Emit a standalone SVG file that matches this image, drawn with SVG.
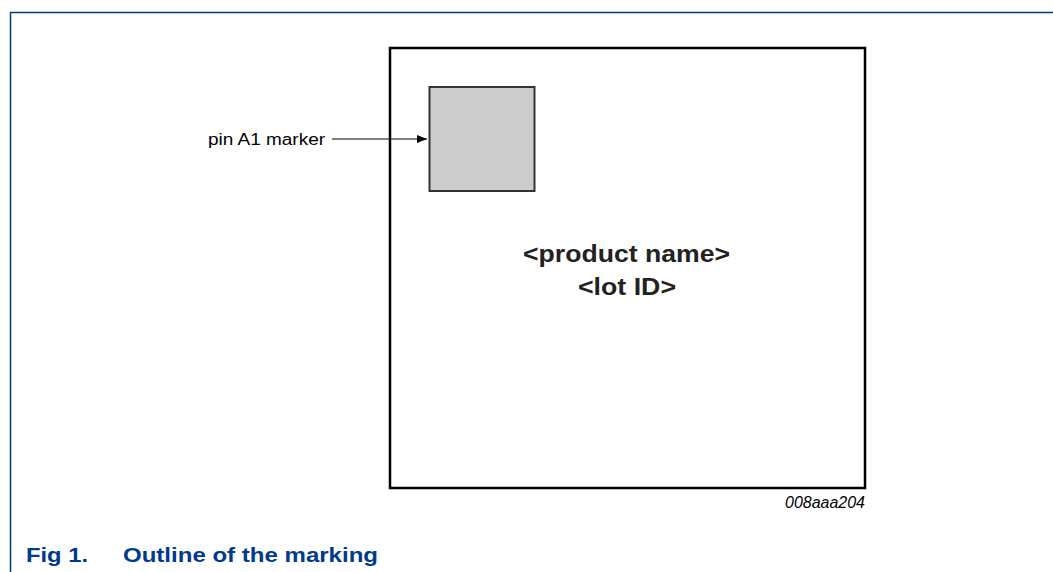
<svg xmlns="http://www.w3.org/2000/svg" width="1053" height="572" viewBox="0 0 1053 572">
<style>
.lbl{font-family:"Liberation Sans",Arial,sans-serif;font-size:16px;fill:#000}
.big{font-family:"Liberation Sans",Arial,sans-serif;font-size:24px;font-weight:bold;fill:#222;text-anchor:middle}
.cap{font-family:"Liberation Sans",Arial,sans-serif;font-size:21px;font-weight:bold;fill:#003a8c}
</style>
<defs>
<marker id="ah" markerWidth="10" markerHeight="8" refX="10" refY="4" orient="auto" markerUnits="userSpaceOnUse">
<path d="M0,0 L10,4 L0,8 Z" fill="#000"/>
</marker>
</defs>
<rect width="1053" height="572" fill="#fff"/>
<path d="M10.5,572 V12.5 H1053" fill="none" stroke="#003a8c" stroke-width="1.5"/>
<g id="package">
<rect x="390" y="48" width="475" height="440" fill="#fff" stroke="#000" stroke-width="2.5"/>
<text class="big" x="626.5" y="262" textLength="207" lengthAdjust="spacingAndGlyphs">&lt;product name&gt;</text>
<text class="big" x="627" y="295" textLength="98" lengthAdjust="spacingAndGlyphs">&lt;lot ID&gt;</text>
</g>
<g id="pinA1">
<rect x="429.5" y="87" width="105" height="104" fill="#ccc" stroke="#333" stroke-width="2"/>
</g>
<g id="label-pin">
<text class="lbl" x="208" y="145" textLength="117" lengthAdjust="spacingAndGlyphs">pin A1 marker</text>
</g>
<g id="connectors">
<line x1="332" y1="139" x2="427" y2="139" stroke="#000" stroke-width="1" marker-end="url(#ah)"/>
</g>
<text class="lbl" x="785" y="508" font-style="italic" textLength="80" lengthAdjust="spacingAndGlyphs">008aaa204</text>
<text class="cap" x="26" y="562" textLength="62" lengthAdjust="spacingAndGlyphs">Fig 1.</text>
<text class="cap" x="123" y="562" textLength="255" lengthAdjust="spacingAndGlyphs">Outline of the marking</text>
</svg>
